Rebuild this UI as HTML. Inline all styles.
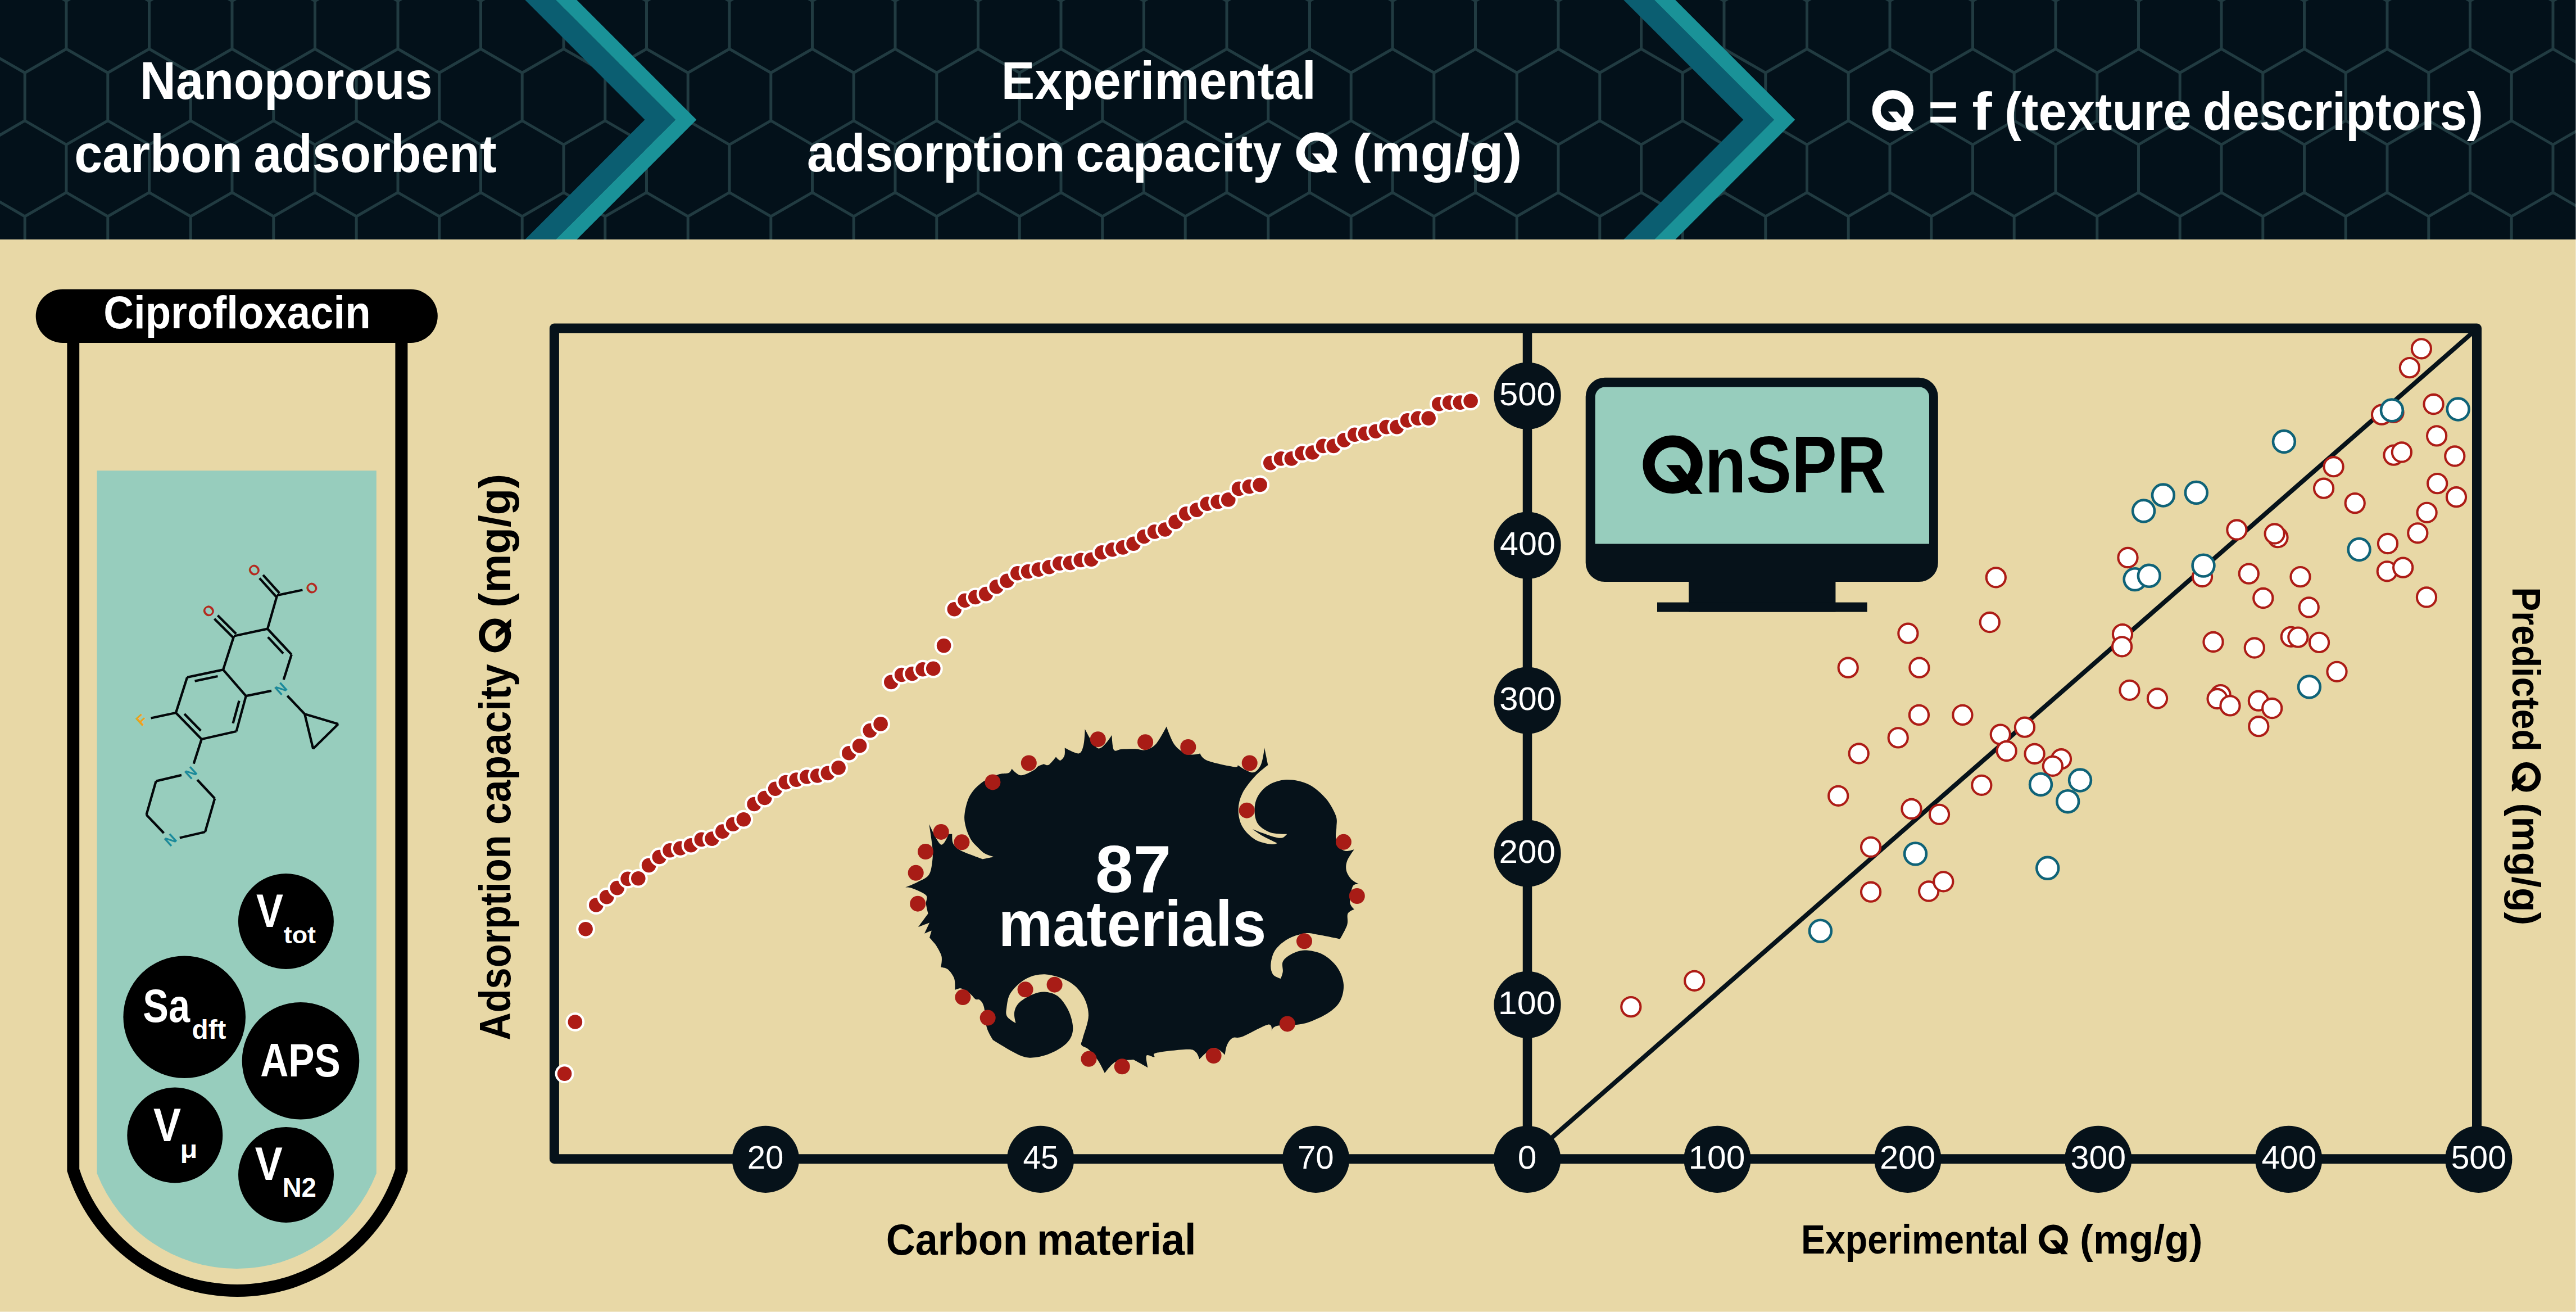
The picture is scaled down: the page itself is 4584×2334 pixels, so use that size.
<!DOCTYPE html>
<html><head><meta charset="utf-8"><style>
html,body{margin:0;padding:0;background:#e8d8a6;}
body{width:4584px;height:2334px;overflow:hidden;}
svg{display:block;font-family:"Liberation Sans", sans-serif;}
</style></head><body>
<svg width="4584" height="2334" viewBox="0 0 4584 2334">
<rect width="4584" height="2334" fill="#e8d8a6"/>
<rect x="0" y="0" width="4584" height="426" fill="#03111a"/><clipPath id="hc"><rect x="0" y="0" width="4584" height="426"/></clipPath><path d="M-177 -253.7V-168.5M-177 -168.5L-103.2 -125.9M-177 -168.5L-250.8 -125.9M-29.5 -253.7V-168.5M-29.5 -168.5L44.2 -125.9M-29.5 -168.5L-103.2 -125.9M118 -253.7V-168.5M118 -168.5L191.8 -125.9M118 -168.5L44.2 -125.9M265.5 -253.7V-168.5M265.5 -168.5L339.2 -125.9M265.5 -168.5L191.8 -125.9M413 -253.7V-168.5M413 -168.5L486.8 -125.9M413 -168.5L339.2 -125.9M560.5 -253.7V-168.5M560.5 -168.5L634.2 -125.9M560.5 -168.5L486.8 -125.9M708 -253.7V-168.5M708 -168.5L781.8 -125.9M708 -168.5L634.2 -125.9M855.5 -253.7V-168.5M855.5 -168.5L929.2 -125.9M855.5 -168.5L781.8 -125.9M1003 -253.7V-168.5M1003 -168.5L1076.8 -125.9M1003 -168.5L929.2 -125.9M1150.5 -253.7V-168.5M1150.5 -168.5L1224.2 -125.9M1150.5 -168.5L1076.8 -125.9M1298 -253.7V-168.5M1298 -168.5L1371.8 -125.9M1298 -168.5L1224.2 -125.9M1445.5 -253.7V-168.5M1445.5 -168.5L1519.2 -125.9M1445.5 -168.5L1371.8 -125.9M1593 -253.7V-168.5M1593 -168.5L1666.8 -125.9M1593 -168.5L1519.2 -125.9M1740.5 -253.7V-168.5M1740.5 -168.5L1814.2 -125.9M1740.5 -168.5L1666.8 -125.9M1888 -253.7V-168.5M1888 -168.5L1961.8 -125.9M1888 -168.5L1814.2 -125.9M2035.5 -253.7V-168.5M2035.5 -168.5L2109.2 -125.9M2035.5 -168.5L1961.8 -125.9M2183 -253.7V-168.5M2183 -168.5L2256.8 -125.9M2183 -168.5L2109.2 -125.9M2330.5 -253.7V-168.5M2330.5 -168.5L2404.2 -125.9M2330.5 -168.5L2256.8 -125.9M2478 -253.7V-168.5M2478 -168.5L2551.8 -125.9M2478 -168.5L2404.2 -125.9M2625.5 -253.7V-168.5M2625.5 -168.5L2699.2 -125.9M2625.5 -168.5L2551.8 -125.9M2773 -253.7V-168.5M2773 -168.5L2846.8 -125.9M2773 -168.5L2699.2 -125.9M2920.5 -253.7V-168.5M2920.5 -168.5L2994.2 -125.9M2920.5 -168.5L2846.8 -125.9M3068 -253.7V-168.5M3068 -168.5L3141.8 -125.9M3068 -168.5L2994.2 -125.9M3215.5 -253.7V-168.5M3215.5 -168.5L3289.2 -125.9M3215.5 -168.5L3141.8 -125.9M3363 -253.7V-168.5M3363 -168.5L3436.8 -125.9M3363 -168.5L3289.2 -125.9M3510.5 -253.7V-168.5M3510.5 -168.5L3584.2 -125.9M3510.5 -168.5L3436.8 -125.9M3658 -253.7V-168.5M3658 -168.5L3731.8 -125.9M3658 -168.5L3584.2 -125.9M3805.5 -253.7V-168.5M3805.5 -168.5L3879.2 -125.9M3805.5 -168.5L3731.8 -125.9M3953 -253.7V-168.5M3953 -168.5L4026.8 -125.9M3953 -168.5L3879.2 -125.9M4100.5 -253.7V-168.5M4100.5 -168.5L4174.2 -125.9M4100.5 -168.5L4026.8 -125.9M4248 -253.7V-168.5M4248 -168.5L4321.8 -125.9M4248 -168.5L4174.2 -125.9M4395.5 -253.7V-168.5M4395.5 -168.5L4469.2 -125.9M4395.5 -168.5L4321.8 -125.9M4543 -253.7V-168.5M4543 -168.5L4616.8 -125.9M4543 -168.5L4469.2 -125.9M4690.5 -253.7V-168.5M4690.5 -168.5L4764.2 -125.9M4690.5 -168.5L4616.8 -125.9M4838 -253.7V-168.5M4838 -168.5L4911.8 -125.9M4838 -168.5L4764.2 -125.9M4985.5 -253.7V-168.5M4985.5 -168.5L5059.2 -125.9M4985.5 -168.5L4911.8 -125.9M-250.8 -125.9V-40.8M-250.8 -40.8L-177 1.8M-250.8 -40.8L-324.5 1.8M-103.2 -125.9V-40.8M-103.2 -40.8L-29.5 1.8M-103.2 -40.8L-177 1.8M44.2 -125.9V-40.8M44.2 -40.8L118 1.8M44.2 -40.8L-29.5 1.8M191.8 -125.9V-40.8M191.8 -40.8L265.5 1.8M191.8 -40.8L118 1.8M339.2 -125.9V-40.8M339.2 -40.8L413 1.8M339.2 -40.8L265.5 1.8M486.8 -125.9V-40.8M486.8 -40.8L560.5 1.8M486.8 -40.8L413 1.8M634.2 -125.9V-40.8M634.2 -40.8L708 1.8M634.2 -40.8L560.5 1.8M781.8 -125.9V-40.8M781.8 -40.8L855.5 1.8M781.8 -40.8L708 1.8M929.2 -125.9V-40.8M929.2 -40.8L1003 1.8M929.2 -40.8L855.5 1.8M1076.8 -125.9V-40.8M1076.8 -40.8L1150.5 1.8M1076.8 -40.8L1003 1.8M1224.2 -125.9V-40.8M1224.2 -40.8L1298 1.8M1224.2 -40.8L1150.5 1.8M1371.8 -125.9V-40.8M1371.8 -40.8L1445.5 1.8M1371.8 -40.8L1298 1.8M1519.2 -125.9V-40.8M1519.2 -40.8L1593 1.8M1519.2 -40.8L1445.5 1.8M1666.8 -125.9V-40.8M1666.8 -40.8L1740.5 1.8M1666.8 -40.8L1593 1.8M1814.2 -125.9V-40.8M1814.2 -40.8L1888 1.8M1814.2 -40.8L1740.5 1.8M1961.8 -125.9V-40.8M1961.8 -40.8L2035.5 1.8M1961.8 -40.8L1888 1.8M2109.2 -125.9V-40.8M2109.2 -40.8L2183 1.8M2109.2 -40.8L2035.5 1.8M2256.8 -125.9V-40.8M2256.8 -40.8L2330.5 1.8M2256.8 -40.8L2183 1.8M2404.2 -125.9V-40.8M2404.2 -40.8L2478 1.8M2404.2 -40.8L2330.5 1.8M2551.8 -125.9V-40.8M2551.8 -40.8L2625.5 1.8M2551.8 -40.8L2478 1.8M2699.2 -125.9V-40.8M2699.2 -40.8L2773 1.8M2699.2 -40.8L2625.5 1.8M2846.8 -125.9V-40.8M2846.8 -40.8L2920.5 1.8M2846.8 -40.8L2773 1.8M2994.2 -125.9V-40.8M2994.2 -40.8L3068 1.8M2994.2 -40.8L2920.5 1.8M3141.8 -125.9V-40.8M3141.8 -40.8L3215.5 1.8M3141.8 -40.8L3068 1.8M3289.2 -125.9V-40.8M3289.2 -40.8L3363 1.8M3289.2 -40.8L3215.5 1.8M3436.8 -125.9V-40.8M3436.8 -40.8L3510.5 1.8M3436.8 -40.8L3363 1.8M3584.2 -125.9V-40.8M3584.2 -40.8L3658 1.8M3584.2 -40.8L3510.5 1.8M3731.8 -125.9V-40.8M3731.8 -40.8L3805.5 1.8M3731.8 -40.8L3658 1.8M3879.2 -125.9V-40.8M3879.2 -40.8L3953 1.8M3879.2 -40.8L3805.5 1.8M4026.8 -125.9V-40.8M4026.8 -40.8L4100.5 1.8M4026.8 -40.8L3953 1.8M4174.2 -125.9V-40.8M4174.2 -40.8L4248 1.8M4174.2 -40.8L4100.5 1.8M4321.8 -125.9V-40.8M4321.8 -40.8L4395.5 1.8M4321.8 -40.8L4248 1.8M4469.2 -125.9V-40.8M4469.2 -40.8L4543 1.8M4469.2 -40.8L4395.5 1.8M4616.8 -125.9V-40.8M4616.8 -40.8L4690.5 1.8M4616.8 -40.8L4543 1.8M4764.2 -125.9V-40.8M4764.2 -40.8L4838 1.8M4764.2 -40.8L4690.5 1.8M4911.8 -125.9V-40.8M4911.8 -40.8L4985.5 1.8M4911.8 -40.8L4838 1.8M-177 1.8V87M-177 87L-103.2 129.5M-177 87L-250.8 129.5M-29.5 1.8V87M-29.5 87L44.2 129.5M-29.5 87L-103.2 129.5M118 1.8V87M118 87L191.8 129.5M118 87L44.2 129.5M265.5 1.8V87M265.5 87L339.2 129.5M265.5 87L191.8 129.5M413 1.8V87M413 87L486.8 129.5M413 87L339.2 129.5M560.5 1.8V87M560.5 87L634.2 129.5M560.5 87L486.8 129.5M708 1.8V87M708 87L781.8 129.5M708 87L634.2 129.5M855.5 1.8V87M855.5 87L929.2 129.5M855.5 87L781.8 129.5M1003 1.8V87M1003 87L1076.8 129.5M1003 87L929.2 129.5M1150.5 1.8V87M1150.5 87L1224.2 129.5M1150.5 87L1076.8 129.5M1298 1.8V87M1298 87L1371.8 129.5M1298 87L1224.2 129.5M1445.5 1.8V87M1445.5 87L1519.2 129.5M1445.5 87L1371.8 129.5M1593 1.8V87M1593 87L1666.8 129.5M1593 87L1519.2 129.5M1740.5 1.8V87M1740.5 87L1814.2 129.5M1740.5 87L1666.8 129.5M1888 1.8V87M1888 87L1961.8 129.5M1888 87L1814.2 129.5M2035.5 1.8V87M2035.5 87L2109.2 129.5M2035.5 87L1961.8 129.5M2183 1.8V87M2183 87L2256.8 129.5M2183 87L2109.2 129.5M2330.5 1.8V87M2330.5 87L2404.2 129.5M2330.5 87L2256.8 129.5M2478 1.8V87M2478 87L2551.8 129.5M2478 87L2404.2 129.5M2625.5 1.8V87M2625.5 87L2699.2 129.5M2625.5 87L2551.8 129.5M2773 1.8V87M2773 87L2846.8 129.5M2773 87L2699.2 129.5M2920.5 1.8V87M2920.5 87L2994.2 129.5M2920.5 87L2846.8 129.5M3068 1.8V87M3068 87L3141.8 129.5M3068 87L2994.2 129.5M3215.5 1.8V87M3215.5 87L3289.2 129.5M3215.5 87L3141.8 129.5M3363 1.8V87M3363 87L3436.8 129.5M3363 87L3289.2 129.5M3510.5 1.8V87M3510.5 87L3584.2 129.5M3510.5 87L3436.8 129.5M3658 1.8V87M3658 87L3731.8 129.5M3658 87L3584.2 129.5M3805.5 1.8V87M3805.5 87L3879.2 129.5M3805.5 87L3731.8 129.5M3953 1.8V87M3953 87L4026.8 129.5M3953 87L3879.2 129.5M4100.5 1.8V87M4100.5 87L4174.2 129.5M4100.5 87L4026.8 129.5M4248 1.8V87M4248 87L4321.8 129.5M4248 87L4174.2 129.5M4395.5 1.8V87M4395.5 87L4469.2 129.5M4395.5 87L4321.8 129.5M4543 1.8V87M4543 87L4616.8 129.5M4543 87L4469.2 129.5M4690.5 1.8V87M4690.5 87L4764.2 129.5M4690.5 87L4616.8 129.5M4838 1.8V87M4838 87L4911.8 129.5M4838 87L4764.2 129.5M4985.5 1.8V87M4985.5 87L5059.2 129.5M4985.5 87L4911.8 129.5M-250.8 129.5V214.7M-250.8 214.7L-177 257.3M-250.8 214.7L-324.5 257.3M-103.2 129.5V214.7M-103.2 214.7L-29.5 257.3M-103.2 214.7L-177 257.3M44.2 129.5V214.7M44.2 214.7L118 257.3M44.2 214.7L-29.5 257.3M191.8 129.5V214.7M191.8 214.7L265.5 257.3M191.8 214.7L118 257.3M339.2 129.5V214.7M339.2 214.7L413 257.3M339.2 214.7L265.5 257.3M486.8 129.5V214.7M486.8 214.7L560.5 257.3M486.8 214.7L413 257.3M634.2 129.5V214.7M634.2 214.7L708 257.3M634.2 214.7L560.5 257.3M781.8 129.5V214.7M781.8 214.7L855.5 257.3M781.8 214.7L708 257.3M929.2 129.5V214.7M929.2 214.7L1003 257.3M929.2 214.7L855.5 257.3M1076.8 129.5V214.7M1076.8 214.7L1150.5 257.3M1076.8 214.7L1003 257.3M1224.2 129.5V214.7M1224.2 214.7L1298 257.3M1224.2 214.7L1150.5 257.3M1371.8 129.5V214.7M1371.8 214.7L1445.5 257.3M1371.8 214.7L1298 257.3M1519.2 129.5V214.7M1519.2 214.7L1593 257.3M1519.2 214.7L1445.5 257.3M1666.8 129.5V214.7M1666.8 214.7L1740.5 257.3M1666.8 214.7L1593 257.3M1814.2 129.5V214.7M1814.2 214.7L1888 257.3M1814.2 214.7L1740.5 257.3M1961.8 129.5V214.7M1961.8 214.7L2035.5 257.3M1961.8 214.7L1888 257.3M2109.2 129.5V214.7M2109.2 214.7L2183 257.3M2109.2 214.7L2035.5 257.3M2256.8 129.5V214.7M2256.8 214.7L2330.5 257.3M2256.8 214.7L2183 257.3M2404.2 129.5V214.7M2404.2 214.7L2478 257.3M2404.2 214.7L2330.5 257.3M2551.8 129.5V214.7M2551.8 214.7L2625.5 257.3M2551.8 214.7L2478 257.3M2699.2 129.5V214.7M2699.2 214.7L2773 257.3M2699.2 214.7L2625.5 257.3M2846.8 129.5V214.7M2846.8 214.7L2920.5 257.3M2846.8 214.7L2773 257.3M2994.2 129.5V214.7M2994.2 214.7L3068 257.3M2994.2 214.7L2920.5 257.3M3141.8 129.5V214.7M3141.8 214.7L3215.5 257.3M3141.8 214.7L3068 257.3M3289.2 129.5V214.7M3289.2 214.7L3363 257.3M3289.2 214.7L3215.5 257.3M3436.8 129.5V214.7M3436.8 214.7L3510.5 257.3M3436.8 214.7L3363 257.3M3584.2 129.5V214.7M3584.2 214.7L3658 257.3M3584.2 214.7L3510.5 257.3M3731.8 129.5V214.7M3731.8 214.7L3805.5 257.3M3731.8 214.7L3658 257.3M3879.2 129.5V214.7M3879.2 214.7L3953 257.3M3879.2 214.7L3805.5 257.3M4026.8 129.5V214.7M4026.8 214.7L4100.5 257.3M4026.8 214.7L3953 257.3M4174.2 129.5V214.7M4174.2 214.7L4248 257.3M4174.2 214.7L4100.5 257.3M4321.8 129.5V214.7M4321.8 214.7L4395.5 257.3M4321.8 214.7L4248 257.3M4469.2 129.5V214.7M4469.2 214.7L4543 257.3M4469.2 214.7L4395.5 257.3M4616.8 129.5V214.7M4616.8 214.7L4690.5 257.3M4616.8 214.7L4543 257.3M4764.2 129.5V214.7M4764.2 214.7L4838 257.3M4764.2 214.7L4690.5 257.3M4911.8 129.5V214.7M4911.8 214.7L4985.5 257.3M4911.8 214.7L4838 257.3M-177 257.3V342.4M-177 342.4L-103.2 385M-177 342.4L-250.8 385M-29.5 257.3V342.4M-29.5 342.4L44.2 385M-29.5 342.4L-103.2 385M118 257.3V342.4M118 342.4L191.8 385M118 342.4L44.2 385M265.5 257.3V342.4M265.5 342.4L339.2 385M265.5 342.4L191.8 385M413 257.3V342.4M413 342.4L486.8 385M413 342.4L339.2 385M560.5 257.3V342.4M560.5 342.4L634.2 385M560.5 342.4L486.8 385M708 257.3V342.4M708 342.4L781.8 385M708 342.4L634.2 385M855.5 257.3V342.4M855.5 342.4L929.2 385M855.5 342.4L781.8 385M1003 257.3V342.4M1003 342.4L1076.8 385M1003 342.4L929.2 385M1150.5 257.3V342.4M1150.5 342.4L1224.2 385M1150.5 342.4L1076.8 385M1298 257.3V342.4M1298 342.4L1371.8 385M1298 342.4L1224.2 385M1445.5 257.3V342.4M1445.5 342.4L1519.2 385M1445.5 342.4L1371.8 385M1593 257.3V342.4M1593 342.4L1666.8 385M1593 342.4L1519.2 385M1740.5 257.3V342.4M1740.5 342.4L1814.2 385M1740.5 342.4L1666.8 385M1888 257.3V342.4M1888 342.4L1961.8 385M1888 342.4L1814.2 385M2035.5 257.3V342.4M2035.5 342.4L2109.2 385M2035.5 342.4L1961.8 385M2183 257.3V342.4M2183 342.4L2256.8 385M2183 342.4L2109.2 385M2330.5 257.3V342.4M2330.5 342.4L2404.2 385M2330.5 342.4L2256.8 385M2478 257.3V342.4M2478 342.4L2551.8 385M2478 342.4L2404.2 385M2625.5 257.3V342.4M2625.5 342.4L2699.2 385M2625.5 342.4L2551.8 385M2773 257.3V342.4M2773 342.4L2846.8 385M2773 342.4L2699.2 385M2920.5 257.3V342.4M2920.5 342.4L2994.2 385M2920.5 342.4L2846.8 385M3068 257.3V342.4M3068 342.4L3141.8 385M3068 342.4L2994.2 385M3215.5 257.3V342.4M3215.5 342.4L3289.2 385M3215.5 342.4L3141.8 385M3363 257.3V342.4M3363 342.4L3436.8 385M3363 342.4L3289.2 385M3510.5 257.3V342.4M3510.5 342.4L3584.2 385M3510.5 342.4L3436.8 385M3658 257.3V342.4M3658 342.4L3731.8 385M3658 342.4L3584.2 385M3805.5 257.3V342.4M3805.5 342.4L3879.2 385M3805.5 342.4L3731.8 385M3953 257.3V342.4M3953 342.4L4026.8 385M3953 342.4L3879.2 385M4100.5 257.3V342.4M4100.5 342.4L4174.2 385M4100.5 342.4L4026.8 385M4248 257.3V342.4M4248 342.4L4321.8 385M4248 342.4L4174.2 385M4395.5 257.3V342.4M4395.5 342.4L4469.2 385M4395.5 342.4L4321.8 385M4543 257.3V342.4M4543 342.4L4616.8 385M4543 342.4L4469.2 385M4690.5 257.3V342.4M4690.5 342.4L4764.2 385M4690.5 342.4L4616.8 385M4838 257.3V342.4M4838 342.4L4911.8 385M4838 342.4L4764.2 385M4985.5 257.3V342.4M4985.5 342.4L5059.2 385M4985.5 342.4L4911.8 385M-250.8 385V470.2M-250.8 470.2L-177 512.8M-250.8 470.2L-324.5 512.8M-103.2 385V470.2M-103.2 470.2L-29.5 512.8M-103.2 470.2L-177 512.8M44.2 385V470.2M44.2 470.2L118 512.8M44.2 470.2L-29.5 512.8M191.8 385V470.2M191.8 470.2L265.5 512.8M191.8 470.2L118 512.8M339.2 385V470.2M339.2 470.2L413 512.8M339.2 470.2L265.5 512.8M486.8 385V470.2M486.8 470.2L560.5 512.8M486.8 470.2L413 512.8M634.2 385V470.2M634.2 470.2L708 512.8M634.2 470.2L560.5 512.8M781.8 385V470.2M781.8 470.2L855.5 512.8M781.8 470.2L708 512.8M929.2 385V470.2M929.2 470.2L1003 512.8M929.2 470.2L855.5 512.8M1076.8 385V470.2M1076.8 470.2L1150.5 512.8M1076.8 470.2L1003 512.8M1224.2 385V470.2M1224.2 470.2L1298 512.8M1224.2 470.2L1150.5 512.8M1371.8 385V470.2M1371.8 470.2L1445.5 512.8M1371.8 470.2L1298 512.8M1519.2 385V470.2M1519.2 470.2L1593 512.8M1519.2 470.2L1445.5 512.8M1666.8 385V470.2M1666.8 470.2L1740.5 512.8M1666.8 470.2L1593 512.8M1814.2 385V470.2M1814.2 470.2L1888 512.8M1814.2 470.2L1740.5 512.8M1961.8 385V470.2M1961.8 470.2L2035.5 512.8M1961.8 470.2L1888 512.8M2109.2 385V470.2M2109.2 470.2L2183 512.8M2109.2 470.2L2035.5 512.8M2256.8 385V470.2M2256.8 470.2L2330.5 512.8M2256.8 470.2L2183 512.8M2404.2 385V470.2M2404.2 470.2L2478 512.8M2404.2 470.2L2330.5 512.8M2551.8 385V470.2M2551.8 470.2L2625.5 512.8M2551.8 470.2L2478 512.8M2699.2 385V470.2M2699.2 470.2L2773 512.8M2699.2 470.2L2625.5 512.8M2846.8 385V470.2M2846.8 470.2L2920.5 512.8M2846.8 470.2L2773 512.8M2994.2 385V470.2M2994.2 470.2L3068 512.8M2994.2 470.2L2920.5 512.8M3141.8 385V470.2M3141.8 470.2L3215.5 512.8M3141.8 470.2L3068 512.8M3289.2 385V470.2M3289.2 470.2L3363 512.8M3289.2 470.2L3215.5 512.8M3436.8 385V470.2M3436.8 470.2L3510.5 512.8M3436.8 470.2L3363 512.8M3584.2 385V470.2M3584.2 470.2L3658 512.8M3584.2 470.2L3510.5 512.8M3731.8 385V470.2M3731.8 470.2L3805.5 512.8M3731.8 470.2L3658 512.8M3879.2 385V470.2M3879.2 470.2L3953 512.8M3879.2 470.2L3805.5 512.8M4026.8 385V470.2M4026.8 470.2L4100.5 512.8M4026.8 470.2L3953 512.8M4174.2 385V470.2M4174.2 470.2L4248 512.8M4174.2 470.2L4100.5 512.8M4321.8 385V470.2M4321.8 470.2L4395.5 512.8M4321.8 470.2L4248 512.8M4469.2 385V470.2M4469.2 470.2L4543 512.8M4469.2 470.2L4395.5 512.8M4616.8 385V470.2M4616.8 470.2L4690.5 512.8M4616.8 470.2L4543 512.8M4764.2 385V470.2M4764.2 470.2L4838 512.8M4764.2 470.2L4690.5 512.8M4911.8 385V470.2M4911.8 470.2L4985.5 512.8M4911.8 470.2L4838 512.8M-177 512.8V597.9M-177 597.9L-103.2 640.5M-177 597.9L-250.8 640.5M-29.5 512.8V597.9M-29.5 597.9L44.2 640.5M-29.5 597.9L-103.2 640.5M118 512.8V597.9M118 597.9L191.8 640.5M118 597.9L44.2 640.5M265.5 512.8V597.9M265.5 597.9L339.2 640.5M265.5 597.9L191.8 640.5M413 512.8V597.9M413 597.9L486.8 640.5M413 597.9L339.2 640.5M560.5 512.8V597.9M560.5 597.9L634.2 640.5M560.5 597.9L486.8 640.5M708 512.8V597.9M708 597.9L781.8 640.5M708 597.9L634.2 640.5M855.5 512.8V597.9M855.5 597.9L929.2 640.5M855.5 597.9L781.8 640.5M1003 512.8V597.9M1003 597.9L1076.8 640.5M1003 597.9L929.2 640.5M1150.5 512.8V597.9M1150.5 597.9L1224.2 640.5M1150.5 597.9L1076.8 640.5M1298 512.8V597.9M1298 597.9L1371.8 640.5M1298 597.9L1224.2 640.5M1445.5 512.8V597.9M1445.5 597.9L1519.2 640.5M1445.5 597.9L1371.8 640.5M1593 512.8V597.9M1593 597.9L1666.8 640.5M1593 597.9L1519.2 640.5M1740.5 512.8V597.9M1740.5 597.9L1814.2 640.5M1740.5 597.9L1666.8 640.5M1888 512.8V597.9M1888 597.9L1961.8 640.5M1888 597.9L1814.2 640.5M2035.5 512.8V597.9M2035.5 597.9L2109.2 640.5M2035.5 597.9L1961.8 640.5M2183 512.8V597.9M2183 597.9L2256.8 640.5M2183 597.9L2109.2 640.5M2330.5 512.8V597.9M2330.5 597.9L2404.2 640.5M2330.5 597.9L2256.8 640.5M2478 512.8V597.9M2478 597.9L2551.8 640.5M2478 597.9L2404.2 640.5M2625.5 512.8V597.9M2625.5 597.9L2699.2 640.5M2625.5 597.9L2551.8 640.5M2773 512.8V597.9M2773 597.9L2846.8 640.5M2773 597.9L2699.2 640.5M2920.5 512.8V597.9M2920.5 597.9L2994.2 640.5M2920.5 597.9L2846.8 640.5M3068 512.8V597.9M3068 597.9L3141.8 640.5M3068 597.9L2994.2 640.5M3215.5 512.8V597.9M3215.5 597.9L3289.2 640.5M3215.5 597.9L3141.8 640.5M3363 512.8V597.9M3363 597.9L3436.8 640.5M3363 597.9L3289.2 640.5M3510.5 512.8V597.9M3510.5 597.9L3584.2 640.5M3510.5 597.9L3436.8 640.5M3658 512.8V597.9M3658 597.9L3731.8 640.5M3658 597.9L3584.2 640.5M3805.5 512.8V597.9M3805.5 597.9L3879.2 640.5M3805.5 597.9L3731.8 640.5M3953 512.8V597.9M3953 597.9L4026.8 640.5M3953 597.9L3879.2 640.5M4100.5 512.8V597.9M4100.5 597.9L4174.2 640.5M4100.5 597.9L4026.8 640.5M4248 512.8V597.9M4248 597.9L4321.8 640.5M4248 597.9L4174.2 640.5M4395.5 512.8V597.9M4395.5 597.9L4469.2 640.5M4395.5 597.9L4321.8 640.5M4543 512.8V597.9M4543 597.9L4616.8 640.5M4543 597.9L4469.2 640.5M4690.5 512.8V597.9M4690.5 597.9L4764.2 640.5M4690.5 597.9L4616.8 640.5M4838 512.8V597.9M4838 597.9L4911.8 640.5M4838 597.9L4764.2 640.5M4985.5 512.8V597.9M4985.5 597.9L5059.2 640.5M4985.5 597.9L4911.8 640.5M-250.8 640.5V725.7M-250.8 725.7L-177 768.2M-250.8 725.7L-324.5 768.2M-103.2 640.5V725.7M-103.2 725.7L-29.5 768.2M-103.2 725.7L-177 768.2M44.2 640.5V725.7M44.2 725.7L118 768.2M44.2 725.7L-29.5 768.2M191.8 640.5V725.7M191.8 725.7L265.5 768.2M191.8 725.7L118 768.2M339.2 640.5V725.7M339.2 725.7L413 768.2M339.2 725.7L265.5 768.2M486.8 640.5V725.7M486.8 725.7L560.5 768.2M486.8 725.7L413 768.2M634.2 640.5V725.7M634.2 725.7L708 768.2M634.2 725.7L560.5 768.2M781.8 640.5V725.7M781.8 725.7L855.5 768.2M781.8 725.7L708 768.2M929.2 640.5V725.7M929.2 725.7L1003 768.2M929.2 725.7L855.5 768.2M1076.8 640.5V725.7M1076.8 725.7L1150.5 768.2M1076.8 725.7L1003 768.2M1224.2 640.5V725.7M1224.2 725.7L1298 768.2M1224.2 725.7L1150.5 768.2M1371.8 640.5V725.7M1371.8 725.7L1445.5 768.2M1371.8 725.7L1298 768.2M1519.2 640.5V725.7M1519.2 725.7L1593 768.2M1519.2 725.7L1445.5 768.2M1666.8 640.5V725.7M1666.8 725.7L1740.5 768.2M1666.8 725.7L1593 768.2M1814.2 640.5V725.7M1814.2 725.7L1888 768.2M1814.2 725.7L1740.5 768.2M1961.8 640.5V725.7M1961.8 725.7L2035.5 768.2M1961.8 725.7L1888 768.2M2109.2 640.5V725.7M2109.2 725.7L2183 768.2M2109.2 725.7L2035.5 768.2M2256.8 640.5V725.7M2256.8 725.7L2330.5 768.2M2256.8 725.7L2183 768.2M2404.2 640.5V725.7M2404.2 725.7L2478 768.2M2404.2 725.7L2330.5 768.2M2551.8 640.5V725.7M2551.8 725.7L2625.5 768.2M2551.8 725.7L2478 768.2M2699.2 640.5V725.7M2699.2 725.7L2773 768.2M2699.2 725.7L2625.5 768.2M2846.8 640.5V725.7M2846.8 725.7L2920.5 768.2M2846.8 725.7L2773 768.2M2994.2 640.5V725.7M2994.2 725.7L3068 768.2M2994.2 725.7L2920.5 768.2M3141.8 640.5V725.7M3141.8 725.7L3215.5 768.2M3141.8 725.7L3068 768.2M3289.2 640.5V725.7M3289.2 725.7L3363 768.2M3289.2 725.7L3215.5 768.2M3436.8 640.5V725.7M3436.8 725.7L3510.5 768.2M3436.8 725.7L3363 768.2M3584.2 640.5V725.7M3584.2 725.7L3658 768.2M3584.2 725.7L3510.5 768.2M3731.8 640.5V725.7M3731.8 725.7L3805.5 768.2M3731.8 725.7L3658 768.2M3879.2 640.5V725.7M3879.2 725.7L3953 768.2M3879.2 725.7L3805.5 768.2M4026.8 640.5V725.7M4026.8 725.7L4100.5 768.2M4026.8 725.7L3953 768.2M4174.2 640.5V725.7M4174.2 725.7L4248 768.2M4174.2 725.7L4100.5 768.2M4321.8 640.5V725.7M4321.8 725.7L4395.5 768.2M4321.8 725.7L4248 768.2M4469.2 640.5V725.7M4469.2 725.7L4543 768.2M4469.2 725.7L4395.5 768.2M4616.8 640.5V725.7M4616.8 725.7L4690.5 768.2M4616.8 725.7L4543 768.2M4764.2 640.5V725.7M4764.2 725.7L4838 768.2M4764.2 725.7L4690.5 768.2M4911.8 640.5V725.7M4911.8 725.7L4985.5 768.2M4911.8 725.7L4838 768.2" stroke="#213b41" stroke-width="5" fill="none" clip-path="url(#hc)"/><path d="M934.4 0H988.9L1201.9 213L988.9 426H934.4L1147.4 213Z" fill="#0b5e71"/><path d="M988.9 0H1026.4L1239.4 213L1026.4 426H988.9L1201.9 213Z" fill="#1a9298"/><path d="M2889.3 0H2943.8L3156.8 213L2943.8 426H2889.3L3102.3 213Z" fill="#0b5e71"/><path d="M2943.8 0H2981.3L3194.3 213L2981.3 426H2943.8L3156.8 213Z" fill="#1a9298"/><text x="249.1" y="176.3" font-size="94.0" font-weight="bold" fill="#fff" textLength="520.5" lengthAdjust="spacingAndGlyphs">Nanoporous</text><text x="132.2" y="306.0" font-size="94.0" font-weight="bold" fill="#fff" textLength="299.4" lengthAdjust="spacingAndGlyphs">carbon</text><text x="451.4" y="306.0" font-size="94.0" font-weight="bold" fill="#fff" textLength="432.3" lengthAdjust="spacingAndGlyphs">adsorbent</text><text x="1781.8" y="175.9" font-size="94.0" font-weight="bold" fill="#fff" textLength="560.0" lengthAdjust="spacingAndGlyphs">Experimental</text><text x="1435.9" y="305.0" font-size="94.0" font-weight="bold" fill="#fff" textLength="459.5" lengthAdjust="spacingAndGlyphs">adsorption</text><text x="1914.0" y="305.0" font-size="94.0" font-weight="bold" fill="#fff" textLength="366.5" lengthAdjust="spacingAndGlyphs">capacity</text><ellipse cx="2343.0" cy="271.0" rx="28.9" ry="28.2" fill="none" stroke="#fff" stroke-width="15.0"/><path d="M2334.8 273.0H2350.5L2379.4 307.0H2362.7Z" fill="#fff"/><text x="2406.8" y="305.0" font-size="94.0" font-weight="bold" fill="#fff" textLength="301.7" lengthAdjust="spacingAndGlyphs">(mg/g)</text><ellipse cx="3368.3" cy="196.5" rx="29.1" ry="28.6" fill="none" stroke="#fff" stroke-width="15.2"/><path d="M3360.0 198.6H3375.9L3405.0 233.1H3388.3Z" fill="#fff"/><text x="3431.5" y="231.0" font-size="94.0" font-weight="bold" fill="#fff" textLength="52.9" lengthAdjust="spacingAndGlyphs">=</text><text x="3509.2" y="231.0" font-size="94.0" font-weight="bold" fill="#fff" textLength="35.4" lengthAdjust="spacingAndGlyphs">f</text><text x="3567.1" y="231.0" font-size="94.0" font-weight="bold" fill="#fff" textLength="332.5" lengthAdjust="spacingAndGlyphs">(texture</text><text x="3920.0" y="231.0" font-size="94.0" font-weight="bold" fill="#fff" textLength="498.8" lengthAdjust="spacingAndGlyphs">descriptors)</text><path d="M119.4 600V2083.2A317 317 0 0 0 725.4 2083.2V600Z" fill="#000000"/><path d="M141.2 600V2079.5A295 295 0 0 0 703.4 2079.5V600Z" fill="#e8d8a6"/><path d="M172.5 837.3V2087.3A267 267 0 0 0 669.8 2087.3V837.3Z" fill="#97cdbd"/><rect x="63.7" y="514.6" width="715.1" height="95.4" rx="47.7" ry="47.7" fill="#000000"/><text x="184.3" y="584.4" font-size="82.0" font-weight="bold" fill="#fff" textLength="475.3" lengthAdjust="spacingAndGlyphs">Ciprofloxacin</text><path d="M416.3 1131.5L476.1 1118.7M476.1 1118.7L493.2 1059M493.2 1059L538.4 1049.5M518.8 1164.4L504.7 1209.2M483 1228.8L437.7 1238.2M437.7 1238.2L397.1 1191.3M397.1 1191.3L416.3 1131.5M397.1 1191.3L333.1 1204.9M333.1 1204.9L313 1268M313 1268L268.6 1277.5M313 1268L358.7 1315M358.7 1315L420.6 1301M420.6 1301L437.7 1238.2M511.3 1237.7L542.2 1270.2M542.2 1270.2L602 1288M602 1288L557.2 1332M557.2 1332L542.2 1270.2M358.7 1315L344.7 1358.6M323 1378.8L277.6 1389.7M277.6 1389.7L260.5 1449.5M260.5 1449.5L291.5 1482M319.8 1490.5L365 1480M365 1480L382.2 1420.5M382.2 1420.5L351.1 1387.2M476.1 1118.7L518.8 1164.4M497.3 1055.3L468.1 1022.9M491 1061L461.8 1028.6M420.2 1127.6L387.4 1094.8M414.2 1133.6L381.4 1100.8M476.8 1133.4L504.1 1162.6M387.5 1203L346.6 1211.7M328.1 1270L357.4 1300M414.6 1286.8L425.6 1246.6" stroke="#03070a" stroke-width="4.3" stroke-linecap="butt" stroke-linejoin="round" fill="none"/><g transform="translate(452.6 1014) rotate(-42)"><text x="0" y="9" font-size="26" font-weight="bold" fill="#b42a1e" text-anchor="middle">O</text></g><g transform="translate(555 1046) rotate(-42)"><text x="0" y="9" font-size="26" font-weight="bold" fill="#b42a1e" text-anchor="middle">O</text></g><g transform="translate(371.5 1086.7) rotate(-42)"><text x="0" y="9" font-size="26" font-weight="bold" fill="#b42a1e" text-anchor="middle">O</text></g><g transform="translate(499.6 1225.4) rotate(-42)"><text x="0" y="9" font-size="26" font-weight="bold" fill="#1b8a9a" text-anchor="middle">N</text></g><g transform="translate(339.5 1374.8) rotate(-42)"><text x="0" y="9" font-size="26" font-weight="bold" fill="#1b8a9a" text-anchor="middle">N</text></g><g transform="translate(303.2 1494.3) rotate(-42)"><text x="0" y="9" font-size="26" font-weight="bold" fill="#1b8a9a" text-anchor="middle">N</text></g><g transform="translate(252 1281) rotate(-42)"><text x="0" y="9" font-size="26" font-weight="bold" fill="#eea21c" text-anchor="middle">F</text></g><circle cx="508.9" cy="1639" r="85" fill="#000"/><circle cx="328.2" cy="1809.2" r="108.8" fill="#000"/><circle cx="535" cy="1887.2" r="104.3" fill="#000"/><circle cx="311.3" cy="2019.5" r="85" fill="#000"/><circle cx="509" cy="2089.9" r="85" fill="#000"/><text x="456.0" y="1649.0" font-size="84.0" font-weight="bold" fill="#fff" textLength="48.0" lengthAdjust="spacingAndGlyphs">V</text><text x="504.7" y="1678.2" font-size="42.0" font-weight="bold" fill="#fff" textLength="57.4" lengthAdjust="spacingAndGlyphs">tot</text><text x="254.3" y="1818.4" font-size="84.0" font-weight="bold" fill="#fff" textLength="83.7" lengthAdjust="spacingAndGlyphs">Sa</text><text x="341.5" y="1847.6" font-size="48.0" font-weight="bold" fill="#fff" textLength="60.9" lengthAdjust="spacingAndGlyphs">dft</text><text x="463.2" y="1915.0" font-size="84.0" font-weight="bold" fill="#fff" textLength="142.6" lengthAdjust="spacingAndGlyphs">APS</text><text x="272.9" y="2029.9" font-size="84.0" font-weight="bold" fill="#fff" textLength="49.0" lengthAdjust="spacingAndGlyphs">V</text><text x="320.6" y="2059.8" font-size="44.0" font-weight="bold" fill="#fff" textLength="31.0" lengthAdjust="spacingAndGlyphs">μ</text><text x="453.8" y="2099.3" font-size="84.0" font-weight="bold" fill="#fff" textLength="49.1" lengthAdjust="spacingAndGlyphs">V</text><text x="502.4" y="2129.1" font-size="48.0" font-weight="bold" fill="#fff" textLength="60.5" lengthAdjust="spacingAndGlyphs">N2</text><path d="M986.4 584.1H4407.5V2061.8H986.4Z" stroke="#06121a" stroke-width="17" fill="none" stroke-linejoin="round"/><path d="M2718 584.1V2061.8" stroke="#06121a" stroke-width="16.5" fill="none"/><path d="M2718 2061.8L4399.5 592.1" stroke="#06121a" stroke-width="8" fill="none"/><circle cx="1004.6" cy="1910.1" r="14.9" fill="#ad1c16" stroke="#fff" stroke-width="4.2"/><circle cx="1023.4" cy="1818" r="14.9" fill="#ad1c16" stroke="#fff" stroke-width="4.2"/><circle cx="1042.1" cy="1652.8" r="14.9" fill="#ad1c16" stroke="#fff" stroke-width="4.2"/><circle cx="1060.8" cy="1610" r="14.9" fill="#ad1c16" stroke="#fff" stroke-width="4.2"/><circle cx="1079.6" cy="1595.8" r="14.9" fill="#ad1c16" stroke="#fff" stroke-width="4.2"/><circle cx="1098.3" cy="1579.6" r="14.9" fill="#ad1c16" stroke="#fff" stroke-width="4.2"/><circle cx="1117.1" cy="1563.4" r="14.9" fill="#ad1c16" stroke="#fff" stroke-width="4.2"/><circle cx="1135.8" cy="1562.7" r="14.9" fill="#ad1c16" stroke="#fff" stroke-width="4.2"/><circle cx="1154.6" cy="1539.4" r="14.9" fill="#ad1c16" stroke="#fff" stroke-width="4.2"/><circle cx="1173.3" cy="1524.5" r="14.9" fill="#ad1c16" stroke="#fff" stroke-width="4.2"/><circle cx="1192.1" cy="1512.8" r="14.9" fill="#ad1c16" stroke="#fff" stroke-width="4.2"/><circle cx="1210.8" cy="1509" r="14.9" fill="#ad1c16" stroke="#fff" stroke-width="4.2"/><circle cx="1229.6" cy="1503.8" r="14.9" fill="#ad1c16" stroke="#fff" stroke-width="4.2"/><circle cx="1248.3" cy="1493.4" r="14.9" fill="#ad1c16" stroke="#fff" stroke-width="4.2"/><circle cx="1267.1" cy="1492.1" r="14.9" fill="#ad1c16" stroke="#fff" stroke-width="4.2"/><circle cx="1285.8" cy="1479.1" r="14.9" fill="#ad1c16" stroke="#fff" stroke-width="4.2"/><circle cx="1304.6" cy="1466.2" r="14.9" fill="#ad1c16" stroke="#fff" stroke-width="4.2"/><circle cx="1323.3" cy="1457.7" r="14.9" fill="#ad1c16" stroke="#fff" stroke-width="4.2"/><circle cx="1342.1" cy="1430.5" r="14.9" fill="#ad1c16" stroke="#fff" stroke-width="4.2"/><circle cx="1360.8" cy="1419.5" r="14.9" fill="#ad1c16" stroke="#fff" stroke-width="4.2"/><circle cx="1379.6" cy="1403.3" r="14.9" fill="#ad1c16" stroke="#fff" stroke-width="4.2"/><circle cx="1398.3" cy="1391.6" r="14.9" fill="#ad1c16" stroke="#fff" stroke-width="4.2"/><circle cx="1417.1" cy="1387.1" r="14.9" fill="#ad1c16" stroke="#fff" stroke-width="4.2"/><circle cx="1435.8" cy="1382" r="14.9" fill="#ad1c16" stroke="#fff" stroke-width="4.2"/><circle cx="1454.6" cy="1380" r="14.9" fill="#ad1c16" stroke="#fff" stroke-width="4.2"/><circle cx="1473.3" cy="1375.4" r="14.9" fill="#ad1c16" stroke="#fff" stroke-width="4.2"/><circle cx="1492.1" cy="1365.7" r="14.9" fill="#ad1c16" stroke="#fff" stroke-width="4.2"/><circle cx="1510.8" cy="1339.8" r="14.9" fill="#ad1c16" stroke="#fff" stroke-width="4.2"/><circle cx="1529.6" cy="1326.8" r="14.9" fill="#ad1c16" stroke="#fff" stroke-width="4.2"/><circle cx="1548.3" cy="1299.6" r="14.9" fill="#ad1c16" stroke="#fff" stroke-width="4.2"/><circle cx="1567.1" cy="1287.9" r="14.9" fill="#ad1c16" stroke="#fff" stroke-width="4.2"/><circle cx="1585.8" cy="1213.4" r="14.9" fill="#ad1c16" stroke="#fff" stroke-width="4.2"/><circle cx="1604.6" cy="1200.5" r="14.9" fill="#ad1c16" stroke="#fff" stroke-width="4.2"/><circle cx="1623.3" cy="1198.5" r="14.9" fill="#ad1c16" stroke="#fff" stroke-width="4.2"/><circle cx="1642.1" cy="1190.7" r="14.9" fill="#ad1c16" stroke="#fff" stroke-width="4.2"/><circle cx="1660.8" cy="1189.4" r="14.9" fill="#ad1c16" stroke="#fff" stroke-width="4.2"/><circle cx="1679.6" cy="1148.6" r="14.9" fill="#ad1c16" stroke="#fff" stroke-width="4.2"/><circle cx="1698.3" cy="1083.7" r="14.9" fill="#ad1c16" stroke="#fff" stroke-width="4.2"/><circle cx="1717.1" cy="1068.2" r="14.9" fill="#ad1c16" stroke="#fff" stroke-width="4.2"/><circle cx="1735.8" cy="1062.4" r="14.9" fill="#ad1c16" stroke="#fff" stroke-width="4.2"/><circle cx="1754.6" cy="1056.6" r="14.9" fill="#ad1c16" stroke="#fff" stroke-width="4.2"/><circle cx="1773.3" cy="1043.7" r="14.9" fill="#ad1c16" stroke="#fff" stroke-width="4.2"/><circle cx="1792.1" cy="1033.3" r="14.9" fill="#ad1c16" stroke="#fff" stroke-width="4.2"/><circle cx="1810.8" cy="1019.7" r="14.9" fill="#ad1c16" stroke="#fff" stroke-width="4.2"/><circle cx="1829.6" cy="1016.6" r="14.9" fill="#ad1c16" stroke="#fff" stroke-width="4.2"/><circle cx="1848.3" cy="1013.1" r="14.9" fill="#ad1c16" stroke="#fff" stroke-width="4.2"/><circle cx="1867.1" cy="1008.8" r="14.9" fill="#ad1c16" stroke="#fff" stroke-width="4.2"/><circle cx="1885.8" cy="1002.2" r="14.9" fill="#ad1c16" stroke="#fff" stroke-width="4.2"/><circle cx="1904.6" cy="1001.4" r="14.9" fill="#ad1c16" stroke="#fff" stroke-width="4.2"/><circle cx="1923.3" cy="996.4" r="14.9" fill="#ad1c16" stroke="#fff" stroke-width="4.2"/><circle cx="1942.1" cy="995.2" r="14.9" fill="#ad1c16" stroke="#fff" stroke-width="4.2"/><circle cx="1960.8" cy="982.8" r="14.9" fill="#ad1c16" stroke="#fff" stroke-width="4.2"/><circle cx="1979.6" cy="977.7" r="14.9" fill="#ad1c16" stroke="#fff" stroke-width="4.2"/><circle cx="1998.3" cy="973.9" r="14.9" fill="#ad1c16" stroke="#fff" stroke-width="4.2"/><circle cx="2017.1" cy="967.3" r="14.9" fill="#ad1c16" stroke="#fff" stroke-width="4.2"/><circle cx="2035.8" cy="954.5" r="14.9" fill="#ad1c16" stroke="#fff" stroke-width="4.2"/><circle cx="2054.6" cy="945.9" r="14.9" fill="#ad1c16" stroke="#fff" stroke-width="4.2"/><circle cx="2073.3" cy="942" r="14.9" fill="#ad1c16" stroke="#fff" stroke-width="4.2"/><circle cx="2092.1" cy="928.4" r="14.9" fill="#ad1c16" stroke="#fff" stroke-width="4.2"/><circle cx="2110.8" cy="913.7" r="14.9" fill="#ad1c16" stroke="#fff" stroke-width="4.2"/><circle cx="2129.6" cy="907.1" r="14.9" fill="#ad1c16" stroke="#fff" stroke-width="4.2"/><circle cx="2148.3" cy="896.2" r="14.9" fill="#ad1c16" stroke="#fff" stroke-width="4.2"/><circle cx="2167.1" cy="892.7" r="14.9" fill="#ad1c16" stroke="#fff" stroke-width="4.2"/><circle cx="2185.8" cy="888.9" r="14.9" fill="#ad1c16" stroke="#fff" stroke-width="4.2"/><circle cx="2204.6" cy="869.4" r="14.9" fill="#ad1c16" stroke="#fff" stroke-width="4.2"/><circle cx="2223.3" cy="865.6" r="14.9" fill="#ad1c16" stroke="#fff" stroke-width="4.2"/><circle cx="2242.1" cy="862.5" r="14.9" fill="#ad1c16" stroke="#fff" stroke-width="4.2"/><circle cx="2260.8" cy="823.6" r="14.9" fill="#ad1c16" stroke="#fff" stroke-width="4.2"/><circle cx="2279.6" cy="815.9" r="14.9" fill="#ad1c16" stroke="#fff" stroke-width="4.2"/><circle cx="2298.3" cy="815.9" r="14.9" fill="#ad1c16" stroke="#fff" stroke-width="4.2"/><circle cx="2317.1" cy="806.2" r="14.9" fill="#ad1c16" stroke="#fff" stroke-width="4.2"/><circle cx="2335.8" cy="805" r="14.9" fill="#ad1c16" stroke="#fff" stroke-width="4.2"/><circle cx="2354.6" cy="793.4" r="14.9" fill="#ad1c16" stroke="#fff" stroke-width="4.2"/><circle cx="2373.3" cy="793.4" r="14.9" fill="#ad1c16" stroke="#fff" stroke-width="4.2"/><circle cx="2392.1" cy="782.9" r="14.9" fill="#ad1c16" stroke="#fff" stroke-width="4.2"/><circle cx="2410.8" cy="773.2" r="14.9" fill="#ad1c16" stroke="#fff" stroke-width="4.2"/><circle cx="2429.6" cy="771.2" r="14.9" fill="#ad1c16" stroke="#fff" stroke-width="4.2"/><circle cx="2448.3" cy="767.3" r="14.9" fill="#ad1c16" stroke="#fff" stroke-width="4.2"/><circle cx="2467.1" cy="759.6" r="14.9" fill="#ad1c16" stroke="#fff" stroke-width="4.2"/><circle cx="2485.8" cy="759.6" r="14.9" fill="#ad1c16" stroke="#fff" stroke-width="4.2"/><circle cx="2504.6" cy="747.9" r="14.9" fill="#ad1c16" stroke="#fff" stroke-width="4.2"/><circle cx="2523.3" cy="744.1" r="14.9" fill="#ad1c16" stroke="#fff" stroke-width="4.2"/><circle cx="2542.1" cy="744.1" r="14.9" fill="#ad1c16" stroke="#fff" stroke-width="4.2"/><circle cx="2560.8" cy="718.8" r="14.9" fill="#ad1c16" stroke="#fff" stroke-width="4.2"/><circle cx="2579.6" cy="716.1" r="14.9" fill="#ad1c16" stroke="#fff" stroke-width="4.2"/><circle cx="2598.3" cy="716.1" r="14.9" fill="#ad1c16" stroke="#fff" stroke-width="4.2"/><circle cx="2617.1" cy="713.2" r="14.9" fill="#ad1c16" stroke="#fff" stroke-width="4.2"/><path d="M1610.6 1578.7C1610.6 1578.7 1625.7 1572.9 1632.7 1569.2C1639.7 1565.5 1648.4 1562.9 1652.8 1556.6C1657.2 1550.3 1658 1539.9 1659.1 1531.5C1660.1 1523.1 1660.1 1517.2 1659.1 1506.3C1658.1 1495.4 1653.3 1466.1 1653.3 1466.1C1653.3 1466.1 1668.4 1499.6 1674.2 1502.5C1680 1505.4 1688 1483.7 1688 1483.7C1688 1483.7 1694.3 1483.7 1694.3 1483.7C1694.3 1483.7 1694 1493.9 1695.1 1497.8C1696.2 1501.7 1698.2 1504.2 1701 1506.9C1703.8 1509.6 1707.1 1511.8 1712 1514.2C1716.9 1516.7 1724.2 1519.2 1730.3 1521.6C1736.4 1524 1748.6 1528.4 1748.6 1528.4C1748.6 1528.4 1768.7 1524.3 1768.7 1524.3C1768.7 1524.3 1758.1 1521.7 1753.2 1518.8C1748.3 1515.9 1743.8 1511.2 1739.5 1506.9C1735.2 1502.6 1731.1 1499.3 1727.6 1493.2C1724.1 1487.1 1720.2 1477.9 1718.4 1470.3C1716.6 1462.7 1715.4 1456.5 1716.6 1447.4C1717.8 1438.3 1720.8 1424.8 1725.7 1415.8C1730.6 1406.8 1737.4 1399.5 1745.8 1393.2C1754.2 1386.9 1767.8 1381 1776 1378C1784.2 1375 1790.8 1376.8 1794.9 1375C1799 1373.2 1800.4 1367.5 1800.4 1367.5C1800.4 1367.5 1809.9 1378.8 1816.3 1379.3C1822.7 1379.8 1833.7 1373.2 1838.9 1370.5C1844.1 1367.8 1844.6 1364.9 1847.7 1363C1850.8 1361.1 1857.8 1359.2 1857.8 1359.2C1857.8 1359.2 1863 1362.6 1866.6 1360.5C1870.1 1358.4 1879.1 1346.6 1879.1 1346.6C1879.1 1346.6 1884.2 1353.3 1886.7 1352.9C1889.2 1352.5 1892.9 1347.9 1894.2 1344.1C1895.5 1340.3 1894.7 1330.3 1894.7 1330.3C1894.7 1330.3 1913.8 1341.2 1919.4 1340.4C1925 1339.6 1926.3 1332.5 1928.2 1325.3C1930.1 1318.1 1930.7 1297.1 1930.7 1297.1C1930.7 1297.1 1946.6 1329.7 1954.6 1331.5C1962.6 1333.3 1978.5 1307.7 1978.5 1307.7C1978.5 1307.7 1979.3 1329.9 1982.2 1334.1C1985.1 1338.3 1989.7 1333.1 1996 1332.8C2002.3 1332.5 2012.8 1332.1 2020 1332.3C2027.2 1332.5 2032.6 1335.7 2038.9 1334.1C2045.2 1332.5 2051.5 1329.6 2057.7 1322.7C2063.8 1315.8 2075.8 1292.6 2075.8 1292.6C2075.8 1292.6 2084.2 1317.1 2090.4 1325.3C2096.6 1333.5 2105.4 1339.1 2113 1341.6C2120.6 1344.1 2135.7 1340.4 2135.7 1340.4C2135.7 1340.4 2138.1 1348.9 2148.2 1352.9C2158.2 1356.9 2187 1362.9 2196 1364.2C2205 1365.5 2202.3 1361 2202.3 1361C2202.3 1361 2221.8 1374.4 2228.7 1374.3C2235.6 1374.2 2240.2 1367.8 2243.8 1360.5C2247.4 1353.2 2250.1 1330.3 2250.1 1330.3C2250.1 1330.3 2256.4 1361 2256.4 1361C2256.4 1361 2241.2 1372.3 2233.7 1380.6C2226.1 1388.9 2216.1 1400.8 2211.1 1410.8C2206.1 1420.8 2203.6 1430.9 2203.6 1440.9C2203.6 1451 2206.1 1462.3 2211.1 1471.1C2216.1 1479.9 2225.3 1488.6 2233.7 1493.7C2242.1 1498.8 2254.9 1500.8 2261.4 1501.8C2267.9 1502.8 2272.7 1500 2272.7 1500C2272.7 1500 2265.8 1496.7 2261.4 1494.5C2257 1492.3 2251.8 1490.1 2246.3 1486.8C2240.9 1483.5 2228.7 1474.9 2228.7 1474.9C2228.7 1474.9 2240 1479.5 2246.3 1481.8C2252.6 1484.1 2260.5 1487.2 2266.4 1488.7C2272.3 1490.2 2277.5 1491.3 2281.5 1490.5C2285.5 1489.7 2290.3 1483.7 2290.3 1483.7C2290.3 1483.7 2270 1484.1 2261.4 1481.2C2252.8 1478.3 2243.6 1472.8 2238.8 1466.1C2234 1459.4 2232.5 1449.3 2232.5 1440.9C2232.5 1432.5 2234.4 1423.3 2238.8 1415.8C2243.2 1408.3 2250.1 1400.5 2258.9 1395.7C2267.7 1390.9 2279.9 1386.9 2291.6 1386.9C2303.3 1386.9 2318 1390.1 2329.3 1395.7C2340.6 1401.3 2351.5 1411.6 2359.5 1420.8C2367.5 1430 2374 1442.6 2377.1 1451C2380.2 1459.4 2378.3 1464.8 2378.3 1471.1C2378.3 1477.4 2376.5 1482.8 2377.1 1488.7C2377.7 1494.6 2379.2 1502.1 2382.1 1506.3C2385 1510.5 2390.1 1513.1 2394.7 1513.9C2399.3 1514.7 2409.8 1510.9 2409.8 1510.9C2409.8 1510.9 2399.5 1525.1 2397.2 1531.5C2394.9 1537.9 2394.7 1543.6 2395.9 1549.1C2397.2 1554.5 2400.9 1560.2 2404.7 1564.2C2408.5 1568.2 2418.6 1573 2418.6 1573C2418.6 1573 2409.9 1571.4 2407.2 1576.7C2404.5 1582 2401.8 1598.3 2402.2 1605.1C2402.6 1611.9 2409.8 1617.7 2409.8 1617.7C2409.8 1617.7 2400.5 1620.7 2398.4 1625.3C2396.3 1629.9 2399.5 1637.9 2397.2 1645.4C2394.9 1652.9 2384.6 1670.5 2384.6 1670.5C2384.6 1670.5 2357.4 1664.7 2346.9 1663C2336.4 1661.3 2331 1659.2 2321.8 1660.5C2312.6 1661.8 2300.4 1665.5 2291.6 1670.5C2282.8 1675.5 2274 1683 2269 1690.6C2264 1698.1 2262 1708.7 2261.4 1715.8C2260.8 1722.9 2262.3 1729.2 2265.2 1733.4C2268.1 1737.6 2279 1740.9 2279 1740.9C2279 1740.9 2282.2 1733.4 2282.8 1728.4C2283.4 1723.4 2280.5 1715.8 2282.8 1710.8C2285.1 1705.8 2290.1 1701.6 2296.6 1698.2C2303.1 1694.8 2312.2 1690.6 2321.8 1690.6C2331.4 1690.6 2344.8 1693.2 2354.4 1698.2C2364 1703.2 2373.5 1712 2379.6 1720.8C2385.7 1729.6 2390.1 1740.9 2390.9 1751C2391.7 1761.1 2389 1772.8 2384.6 1781.2C2380.2 1789.6 2372.9 1795.4 2364.5 1801.3C2356.1 1807.2 2343.5 1812.8 2334.3 1816.4C2325.1 1820 2319.7 1821.2 2309.2 1822.7C2298.7 1824.2 2279.2 1823.3 2271.5 1825.2C2263.8 1827.1 2262.7 1834 2262.7 1834C2262.7 1834 2265 1821 2256.4 1822.7C2247.8 1824.4 2221.6 1840 2211.1 1844C2200.6 1848 2198.1 1844 2193.5 1846.5C2188.9 1849 2185.8 1854.1 2183.5 1859.1C2181.2 1864.1 2179.7 1876.7 2179.7 1876.7C2179.7 1876.7 2167.1 1862.9 2159.6 1864.2C2152.1 1865.5 2134.4 1884.3 2134.4 1884.3C2134.4 1884.3 2131.7 1874.6 2128.1 1871.7C2124.5 1868.8 2124.7 1866.5 2113 1866.7C2101.3 1866.9 2067.5 1870.7 2057.7 1873C2047.9 1875.3 2056.9 1879.7 2054 1880.5C2051.1 1881.3 2042 1874.8 2040.1 1878C2038.2 1881.2 2042.6 1899.4 2042.6 1899.4C2042.6 1899.4 2025 1889.1 2020 1886.8C2015 1884.5 2018.3 1885.1 2012.4 1885.5C2006.5 1885.9 1992.4 1885.4 1984.7 1889.3C1977 1893.2 1966 1909 1966 1909C1966 1909 1958.1 1892.5 1953.3 1885.5C1948.5 1878.5 1941.8 1871.1 1937 1866.7C1932.2 1862.3 1926.1 1862.5 1924.4 1859.1C1922.7 1855.7 1924.8 1855.3 1926.9 1846.5C1929 1837.7 1937 1818.9 1937 1806.3C1937 1793.7 1932.8 1781.1 1926.9 1771.1C1921 1761 1912.7 1752.3 1901.8 1746C1890.9 1739.7 1874.1 1734.2 1861.5 1733.4C1848.9 1732.6 1836.8 1735.5 1826.3 1740.9C1815.8 1746.4 1804.6 1757.3 1798.7 1766.1C1792.8 1774.9 1792.1 1786.6 1791.1 1793.7C1790 1800.8 1789.7 1804.4 1792.4 1808.8C1795.1 1813.2 1807.5 1820.1 1807.5 1820.1C1807.5 1820.1 1804 1807.4 1805 1801.3C1806 1795.2 1808 1789.2 1813.7 1783.7C1819.4 1778.2 1830.9 1771.8 1838.9 1768.6C1846.9 1765.4 1854 1764 1861.5 1764.8C1869 1765.6 1877.4 1767.9 1884.1 1773.6C1890.8 1779.3 1897.6 1789.6 1901.8 1798.8C1906 1808 1909.3 1820.1 1909.3 1828.9C1909.3 1837.7 1906.8 1844.9 1901.8 1851.6C1896.8 1858.3 1888.3 1864.4 1879.1 1869.2C1869.9 1874 1856.9 1879 1846.4 1880.5C1835.9 1882 1829.5 1883 1816.3 1878C1803.1 1873 1767.2 1850.3 1767.2 1850.3C1767.2 1850.3 1758.6 1837.5 1755.9 1827.7C1753.2 1817.9 1753 1799.4 1750.9 1791.2C1748.8 1783 1745.8 1781 1743.3 1778.7C1740.8 1776.4 1738.7 1779.3 1735.8 1777.4C1732.9 1775.5 1729.9 1770.5 1725.7 1767.3C1721.5 1764.1 1715 1759.5 1710.6 1758.5C1706.2 1757.5 1699.3 1761.1 1699.3 1761.1C1699.3 1761.1 1700.2 1747.1 1698.1 1741C1696 1734.9 1690.8 1728 1686.8 1724.6C1682.8 1721.2 1674.2 1720.8 1674.2 1720.8C1674.2 1720.8 1677.1 1707.6 1675.4 1700.7C1673.7 1693.8 1664.1 1679.3 1664.1 1679.3C1664.1 1679.3 1654.1 1668 1654.1 1668C1654.1 1668 1657.8 1655.4 1657.8 1655.4C1657.8 1655.4 1645.3 1660.5 1645.3 1660.5C1645.3 1660.5 1654 1641.6 1654 1641.6C1654 1641.6 1634 1649.2 1634 1649.2C1634 1649.2 1651.6 1625.3 1651.6 1625.3C1651.6 1625.3 1648.4 1613.2 1647.8 1607.7C1647.2 1602.2 1652 1597.2 1647.8 1592.6C1643.6 1588 1628.8 1582.3 1622.6 1580C1616.4 1577.7 1610.6 1578.7 1610.6 1578.7Z" fill="#06121a"/><circle cx="1766.5" cy="1391.4" r="14" fill="#a81c16"/><circle cx="1830.8" cy="1357.5" r="14" fill="#a81c16"/><circle cx="1953.8" cy="1315.2" r="14" fill="#a81c16"/><circle cx="2038.1" cy="1320.2" r="14" fill="#a81c16"/><circle cx="2114.3" cy="1329" r="14" fill="#a81c16"/><circle cx="2223.7" cy="1357.5" r="14" fill="#a81c16"/><circle cx="2218.7" cy="1441.7" r="14" fill="#a81c16"/><circle cx="2390.9" cy="1497.8" r="14" fill="#a81c16"/><circle cx="2414.8" cy="1594" r="14" fill="#a81c16"/><circle cx="2321" cy="1674.3" r="14" fill="#a81c16"/><circle cx="2290.8" cy="1821.4" r="14" fill="#a81c16"/><circle cx="2159.6" cy="1878" r="14" fill="#a81c16"/><circle cx="1996.8" cy="1897.3" r="14" fill="#a81c16"/><circle cx="1937.5" cy="1883.8" r="14" fill="#a81c16"/><circle cx="1876.6" cy="1751.7" r="14" fill="#a81c16"/><circle cx="1824.6" cy="1760.3" r="14" fill="#a81c16"/><circle cx="1757.7" cy="1810.6" r="14" fill="#a81c16"/><circle cx="1713.4" cy="1774.1" r="14" fill="#a81c16"/><circle cx="1633.2" cy="1607.7" r="14" fill="#a81c16"/><circle cx="1629.7" cy="1552.8" r="14" fill="#a81c16"/><circle cx="1647" cy="1515.1" r="14" fill="#a81c16"/><circle cx="1674.7" cy="1479.9" r="14" fill="#a81c16"/><circle cx="1711.4" cy="1498.3" r="14" fill="#a81c16"/><text x="1949.1" y="1587.0" font-size="118.0" font-weight="bold" fill="#fff" textLength="135.2" lengthAdjust="spacingAndGlyphs">87</text><text x="1776.6" y="1682.6" font-size="115.0" font-weight="bold" fill="#fff" textLength="476.8" lengthAdjust="spacingAndGlyphs">materials</text><rect x="3005" y="1020" width="261.4" height="68.4" fill="#06121a"/><rect x="2949" y="1071.6" width="373.6" height="17" fill="#06121a"/><rect x="2821.7" y="671.7" width="627.1" height="363.3" rx="34" ry="34" fill="#06121a"/><path d="M2838.6 967.4V706.1A17.5 17.5 0 0 1 2856.1 688.6H3415.5A17.5 17.5 0 0 1 3433 706.1V967.4Z" fill="#97cdbd"/><ellipse cx="2976.6" cy="826.3" rx="42.6" ry="41.4" fill="none" stroke="#000" stroke-width="21"/><path d="M2964.9 827.2H2989.5L3029.8 878.8H3008.8Z" fill="#000"/><text x="3033.4" y="876.2" font-size="143.0" font-weight="bold" fill="#000" textLength="322.8" lengthAdjust="spacingAndGlyphs">nSPR</text><circle cx="2902.3" cy="1791.1" r="17.1" fill="#fff" stroke="#ad1c16" stroke-width="4.1"/><circle cx="3015.2" cy="1744.8" r="17.1" fill="#fff" stroke="#ad1c16" stroke-width="4.1"/><circle cx="3271.2" cy="1415.8" r="17.1" fill="#fff" stroke="#ad1c16" stroke-width="4.1"/><circle cx="3307.7" cy="1340.5" r="17.1" fill="#fff" stroke="#ad1c16" stroke-width="4.1"/><circle cx="3377.7" cy="1312.4" r="17.1" fill="#fff" stroke="#ad1c16" stroke-width="4.1"/><circle cx="3401.5" cy="1439" r="17.1" fill="#fff" stroke="#ad1c16" stroke-width="4.1"/><circle cx="3451" cy="1448.8" r="17.1" fill="#fff" stroke="#ad1c16" stroke-width="4.1"/><circle cx="3329.1" cy="1506.8" r="17.1" fill="#fff" stroke="#ad1c16" stroke-width="4.1"/><circle cx="3329.1" cy="1586.7" r="17.1" fill="#fff" stroke="#ad1c16" stroke-width="4.1"/><circle cx="3432.2" cy="1585.5" r="17.1" fill="#fff" stroke="#ad1c16" stroke-width="4.1"/><circle cx="3458.3" cy="1568.3" r="17.1" fill="#fff" stroke="#ad1c16" stroke-width="4.1"/><circle cx="3395.4" cy="1126.7" r="17.1" fill="#fff" stroke="#ad1c16" stroke-width="4.1"/><circle cx="3288.7" cy="1187.7" r="17.1" fill="#fff" stroke="#ad1c16" stroke-width="4.1"/><circle cx="3415.4" cy="1187.7" r="17.1" fill="#fff" stroke="#ad1c16" stroke-width="4.1"/><circle cx="3414.9" cy="1271.9" r="17.1" fill="#fff" stroke="#ad1c16" stroke-width="4.1"/><circle cx="3492.4" cy="1271.9" r="17.1" fill="#fff" stroke="#ad1c16" stroke-width="4.1"/><circle cx="3540.8" cy="1107" r="17.1" fill="#fff" stroke="#ad1c16" stroke-width="4.1"/><circle cx="3551.8" cy="1027.3" r="17.1" fill="#fff" stroke="#ad1c16" stroke-width="4.1"/><circle cx="3559.8" cy="1306.6" r="17.1" fill="#fff" stroke="#ad1c16" stroke-width="4.1"/><circle cx="3603" cy="1293.7" r="17.1" fill="#fff" stroke="#ad1c16" stroke-width="4.1"/><circle cx="3570.7" cy="1336" r="17.1" fill="#fff" stroke="#ad1c16" stroke-width="4.1"/><circle cx="3620.6" cy="1341" r="17.1" fill="#fff" stroke="#ad1c16" stroke-width="4.1"/><circle cx="3668" cy="1350.2" r="17.1" fill="#fff" stroke="#ad1c16" stroke-width="4.1"/><circle cx="3652.9" cy="1362.8" r="17.1" fill="#fff" stroke="#ad1c16" stroke-width="4.1"/><circle cx="3526.3" cy="1396.8" r="17.1" fill="#fff" stroke="#ad1c16" stroke-width="4.1"/><circle cx="3777" cy="1128.1" r="17.1" fill="#fff" stroke="#ad1c16" stroke-width="4.1"/><circle cx="3776.1" cy="1150.3" r="17.1" fill="#fff" stroke="#ad1c16" stroke-width="4.1"/><circle cx="3786.5" cy="992" r="17.1" fill="#fff" stroke="#ad1c16" stroke-width="4.1"/><circle cx="3919" cy="1026" r="17.1" fill="#fff" stroke="#ad1c16" stroke-width="4.1"/><circle cx="3789.5" cy="1227.8" r="17.1" fill="#fff" stroke="#ad1c16" stroke-width="4.1"/><circle cx="3839" cy="1242.5" r="17.1" fill="#fff" stroke="#ad1c16" stroke-width="4.1"/><circle cx="3938.5" cy="1142" r="17.1" fill="#fff" stroke="#ad1c16" stroke-width="4.1"/><circle cx="4011.8" cy="1152.5" r="17.1" fill="#fff" stroke="#ad1c16" stroke-width="4.1"/><circle cx="4076.8" cy="1132.8" r="17.1" fill="#fff" stroke="#ad1c16" stroke-width="4.1"/><circle cx="4089.4" cy="1133.6" r="17.1" fill="#fff" stroke="#ad1c16" stroke-width="4.1"/><circle cx="4127" cy="1142.9" r="17.1" fill="#fff" stroke="#ad1c16" stroke-width="4.1"/><circle cx="4158.5" cy="1194.8" r="17.1" fill="#fff" stroke="#ad1c16" stroke-width="4.1"/><circle cx="3951.6" cy="1236.1" r="17.1" fill="#fff" stroke="#ad1c16" stroke-width="4.1"/><circle cx="3945.6" cy="1243" r="17.1" fill="#fff" stroke="#ad1c16" stroke-width="4.1"/><circle cx="3968.5" cy="1255.4" r="17.1" fill="#fff" stroke="#ad1c16" stroke-width="4.1"/><circle cx="4018.9" cy="1246.7" r="17.1" fill="#fff" stroke="#ad1c16" stroke-width="4.1"/><circle cx="4043.2" cy="1260" r="17.1" fill="#fff" stroke="#ad1c16" stroke-width="4.1"/><circle cx="4019.3" cy="1292.2" r="17.1" fill="#fff" stroke="#ad1c16" stroke-width="4.1"/><circle cx="4308.9" cy="620.3" r="17.1" fill="#fff" stroke="#ad1c16" stroke-width="4.1"/><circle cx="4287.9" cy="654.1" r="17.1" fill="#fff" stroke="#ad1c16" stroke-width="4.1"/><circle cx="4238.1" cy="737.7" r="17.1" fill="#fff" stroke="#ad1c16" stroke-width="4.1"/><circle cx="4259.5" cy="733.8" r="17.1" fill="#fff" stroke="#ad1c16" stroke-width="4.1"/><circle cx="4330.6" cy="719" r="17.1" fill="#fff" stroke="#ad1c16" stroke-width="4.1"/><circle cx="4336.1" cy="775.4" r="17.1" fill="#fff" stroke="#ad1c16" stroke-width="4.1"/><circle cx="4368.3" cy="811.5" r="17.1" fill="#fff" stroke="#ad1c16" stroke-width="4.1"/><circle cx="4259.5" cy="809.6" r="17.1" fill="#fff" stroke="#ad1c16" stroke-width="4.1"/><circle cx="4273.9" cy="804.5" r="17.1" fill="#fff" stroke="#ad1c16" stroke-width="4.1"/><circle cx="4152.6" cy="830.2" r="17.1" fill="#fff" stroke="#ad1c16" stroke-width="4.1"/><circle cx="4135.1" cy="868.7" r="17.1" fill="#fff" stroke="#ad1c16" stroke-width="4.1"/><circle cx="4190.7" cy="895.1" r="17.1" fill="#fff" stroke="#ad1c16" stroke-width="4.1"/><circle cx="4337.2" cy="860.1" r="17.1" fill="#fff" stroke="#ad1c16" stroke-width="4.1"/><circle cx="4371" cy="884.2" r="17.1" fill="#fff" stroke="#ad1c16" stroke-width="4.1"/><circle cx="4318.6" cy="911.8" r="17.1" fill="#fff" stroke="#ad1c16" stroke-width="4.1"/><circle cx="4302.3" cy="948.3" r="17.1" fill="#fff" stroke="#ad1c16" stroke-width="4.1"/><circle cx="3980.4" cy="942.5" r="17.1" fill="#fff" stroke="#ad1c16" stroke-width="4.1"/><circle cx="4053.5" cy="956.1" r="17.1" fill="#fff" stroke="#ad1c16" stroke-width="4.1"/><circle cx="4047.7" cy="949.5" r="17.1" fill="#fff" stroke="#ad1c16" stroke-width="4.1"/><circle cx="4249" cy="967" r="17.1" fill="#fff" stroke="#ad1c16" stroke-width="4.1"/><circle cx="4247.8" cy="1016.3" r="17.1" fill="#fff" stroke="#ad1c16" stroke-width="4.1"/><circle cx="4276.2" cy="1009.7" r="17.1" fill="#fff" stroke="#ad1c16" stroke-width="4.1"/><circle cx="4001.8" cy="1020.6" r="17.1" fill="#fff" stroke="#ad1c16" stroke-width="4.1"/><circle cx="4093.5" cy="1026.1" r="17.1" fill="#fff" stroke="#ad1c16" stroke-width="4.1"/><circle cx="4027.3" cy="1064" r="17.1" fill="#fff" stroke="#ad1c16" stroke-width="4.1"/><circle cx="4108.7" cy="1080.5" r="17.1" fill="#fff" stroke="#ad1c16" stroke-width="4.1"/><circle cx="4318" cy="1062.5" r="17.1" fill="#fff" stroke="#ad1c16" stroke-width="4.1"/><circle cx="3239.4" cy="1656.2" r="19.4" fill="#fff" stroke="#0f6378" stroke-width="4.6"/><circle cx="3408.5" cy="1518.9" r="19.4" fill="#fff" stroke="#0f6378" stroke-width="4.6"/><circle cx="3631.5" cy="1395.5" r="19.4" fill="#fff" stroke="#0f6378" stroke-width="4.6"/><circle cx="3701.5" cy="1388" r="19.4" fill="#fff" stroke="#0f6378" stroke-width="4.6"/><circle cx="3679.7" cy="1425.7" r="19.4" fill="#fff" stroke="#0f6378" stroke-width="4.6"/><circle cx="3643.7" cy="1544.3" r="19.4" fill="#fff" stroke="#0f6378" stroke-width="4.6"/><circle cx="4109.4" cy="1222" r="19.4" fill="#fff" stroke="#0f6378" stroke-width="4.6"/><circle cx="3814.6" cy="909" r="19.4" fill="#fff" stroke="#0f6378" stroke-width="4.6"/><circle cx="3849.4" cy="881" r="19.4" fill="#fff" stroke="#0f6378" stroke-width="4.6"/><circle cx="3908.3" cy="876.4" r="19.4" fill="#fff" stroke="#0f6378" stroke-width="4.6"/><circle cx="3799.1" cy="1030.6" r="19.4" fill="#fff" stroke="#0f6378" stroke-width="4.6"/><circle cx="3824.3" cy="1024.3" r="19.4" fill="#fff" stroke="#0f6378" stroke-width="4.6"/><circle cx="3921" cy="1006.1" r="19.4" fill="#fff" stroke="#0f6378" stroke-width="4.6"/><circle cx="4256.4" cy="729.9" r="19.4" fill="#fff" stroke="#0f6378" stroke-width="4.6"/><circle cx="4374.2" cy="728" r="19.4" fill="#fff" stroke="#0f6378" stroke-width="4.6"/><circle cx="4064.4" cy="785.5" r="19.4" fill="#fff" stroke="#0f6378" stroke-width="4.6"/><circle cx="4198.1" cy="977.5" r="19.4" fill="#fff" stroke="#0f6378" stroke-width="4.6"/><circle cx="1362.4" cy="2062.3" r="59.6" fill="#06121a"/><text x="1329.7" y="2078.8" font-size="58.0" font-weight="normal" fill="#fff" textLength="64.7" lengthAdjust="spacingAndGlyphs">20</text><circle cx="1851.6" cy="2062.3" r="59.6" fill="#06121a"/><text x="1820.5" y="2078.8" font-size="58.0" font-weight="normal" fill="#fff" textLength="63.2" lengthAdjust="spacingAndGlyphs">45</text><circle cx="2341.6" cy="2062.3" r="59.6" fill="#06121a"/><text x="2308.9" y="2078.8" font-size="58.0" font-weight="normal" fill="#fff" textLength="64.8" lengthAdjust="spacingAndGlyphs">70</text><circle cx="2717.7" cy="2062.3" r="59.6" fill="#06121a"/><text x="2700.8" y="2078.8" font-size="58.0" font-weight="normal" fill="#fff" textLength="33.7" lengthAdjust="spacingAndGlyphs">0</text><circle cx="3056" cy="2062.3" r="59.6" fill="#06121a"/><text x="3004.4" y="2078.8" font-size="58.0" font-weight="normal" fill="#fff" textLength="101.0" lengthAdjust="spacingAndGlyphs">100</text><circle cx="3394.9" cy="2062.3" r="59.6" fill="#06121a"/><text x="3344.9" y="2078.8" font-size="58.0" font-weight="normal" fill="#fff" textLength="99.3" lengthAdjust="spacingAndGlyphs">200</text><circle cx="3733.8" cy="2062.3" r="59.6" fill="#06121a"/><text x="3684.6" y="2078.8" font-size="58.0" font-weight="normal" fill="#fff" textLength="98.6" lengthAdjust="spacingAndGlyphs">300</text><circle cx="4072.7" cy="2062.3" r="59.6" fill="#06121a"/><text x="4024.4" y="2078.8" font-size="58.0" font-weight="normal" fill="#fff" textLength="97.6" lengthAdjust="spacingAndGlyphs">400</text><circle cx="4410.8" cy="2062.3" r="59.6" fill="#06121a"/><text x="4361.4" y="2078.8" font-size="58.0" font-weight="normal" fill="#fff" textLength="98.7" lengthAdjust="spacingAndGlyphs">500</text><circle cx="2718" cy="704.1" r="59.6" fill="#06121a"/><text x="2668.1" y="720.6" font-size="58.0" font-weight="normal" fill="#fff" textLength="99.7" lengthAdjust="spacingAndGlyphs">500</text><circle cx="2718" cy="970.1" r="59.6" fill="#06121a"/><text x="2669.1" y="986.6" font-size="58.0" font-weight="normal" fill="#fff" textLength="98.7" lengthAdjust="spacingAndGlyphs">400</text><circle cx="2718" cy="1246" r="59.6" fill="#06121a"/><text x="2668.2" y="1262.5" font-size="58.0" font-weight="normal" fill="#fff" textLength="99.6" lengthAdjust="spacingAndGlyphs">300</text><circle cx="2718" cy="1518" r="59.6" fill="#06121a"/><text x="2667.5" y="1534.5" font-size="58.0" font-weight="normal" fill="#fff" textLength="100.4" lengthAdjust="spacingAndGlyphs">200</text><circle cx="2718" cy="1787.3" r="59.6" fill="#06121a"/><text x="2665.8" y="1803.8" font-size="58.0" font-weight="normal" fill="#fff" textLength="102.0" lengthAdjust="spacingAndGlyphs">100</text><text x="1576.8" y="2231.5" font-size="77.0" font-weight="bold" fill="#000" textLength="252.0" lengthAdjust="spacingAndGlyphs">Carbon</text><text x="1844.9" y="2231.5" font-size="77.0" font-weight="bold" fill="#000" textLength="283.8" lengthAdjust="spacingAndGlyphs">material</text><text x="3205.0" y="2229.8" font-size="72.0" font-weight="bold" fill="#000" textLength="404.7" lengthAdjust="spacingAndGlyphs">Experimental</text><ellipse cx="3653.9" cy="2204.8" rx="21.0" ry="21.2" fill="none" stroke="#000" stroke-width="10.0"/><path d="M3647.9 2206.3H3659.4L3679.9 2231.3H3668.4Z" fill="#000"/><text x="3701.1" y="2229.8" font-size="72.0" font-weight="bold" fill="#000" textLength="218.4" lengthAdjust="spacingAndGlyphs">(mg/g)</text><g transform="translate(907.9 1849) rotate(-90)"><text x="-1.7" y="0.0" font-size="78.0" font-weight="bold" fill="#000" textLength="365.2" lengthAdjust="spacingAndGlyphs">Adsorption</text><text x="382.0" y="0.0" font-size="78.0" font-weight="bold" fill="#000" textLength="285.6" lengthAdjust="spacingAndGlyphs">capacity</text><ellipse cx="718.5" cy="-27.2" rx="24.5" ry="23.2" fill="none" stroke="#000" stroke-width="10.9"/><path d="M712.0 -25.6H724.5L748.5 1.6H734.4Z" fill="#000"/><text x="768.1" y="0.0" font-size="78.0" font-weight="bold" fill="#000" textLength="238.1" lengthAdjust="spacingAndGlyphs">(mg/g)</text></g><g transform="translate(4471.3 1048.9) rotate(90)"><text x="-4.3" y="0.0" font-size="70.0" font-weight="bold" fill="#000" textLength="291.9" lengthAdjust="spacingAndGlyphs">Predicted</text><ellipse cx="333.3" cy="-24.5" rx="21.4" ry="20.8" fill="none" stroke="#000" stroke-width="9.8"/><path d="M327.4 -23.0H338.7L359.6 1.5H347.5Z" fill="#000"/><text x="379.6" y="0.0" font-size="70.0" font-weight="bold" fill="#000" textLength="217.8" lengthAdjust="spacingAndGlyphs">(mg/g)</text></g><rect x="4583" y="0" width="1" height="2334" fill="#fff" fill-opacity="0.45"/><rect x="0" y="2333" width="4584" height="1" fill="#fff" fill-opacity="0.45"/>
</svg></body></html>
